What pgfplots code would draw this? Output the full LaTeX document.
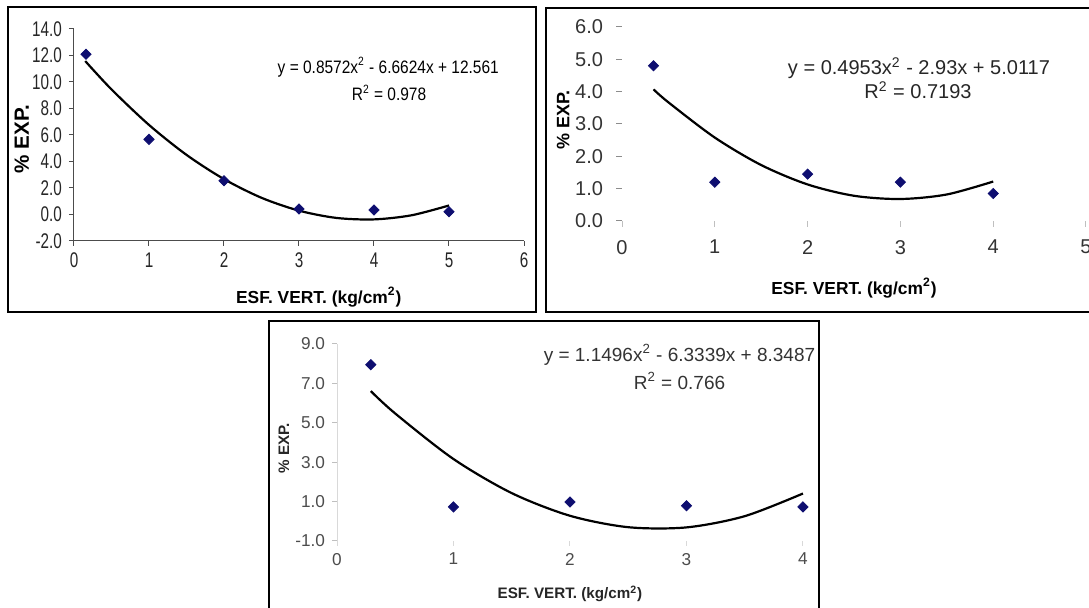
\documentclass[border=0pt]{standalone}
\usepackage{fontspec}
\setmainfont{Liberation Sans}
\newfontfamily\narrowsans{Liberation Sans}[FakeStretch=0.72]
\newfontfamily\eqsans{Liberation Sans}[FakeStretch=0.86]
\usepackage{pgfplots}
\pgfplotsset{compat=1.18}
\definecolor{ptnavy}{RGB}{14,14,112}

\pgfplotsset{
  excel/.style={
    scale only axis, clip=false, anchor=south west,
    axis x line*=bottom, axis y line*=left,
    tick align=outside, major tick length=2.5pt,
    axis line style={black!70, line width=0.5pt},
    tick style={black!70, line width=0.5pt},
    xlabel style={anchor=center, font=\bfseries\fontsize{8.7}{9}\selectfont},
    ylabel style={anchor=center, font=\bfseries\fontsize{9}{9}\selectfont},
  },
  pts/.style={only marks, mark=square*, mark size=1.8pt,
    mark options={rotate=45, fill=ptnavy, draw=ptnavy}},
  trend/.style={black, line width=1.1pt, smooth, no marks},
}

\begin{document}
\begin{tikzpicture}
\useasboundingbox (0,0) rectangle (544.5pt,304pt);

% panel frames
\draw[line width=1pt] (4pt,300.25pt) rectangle (268pt,148pt);
\draw[line width=1pt] (273pt,300pt) rectangle (550pt,148pt);
\draw[line width=1pt] (134.5pt,143.5pt) rectangle (409.5pt,-6pt);

% panel 1
\begin{axis}[excel,
  at={(37pt,183.5pt)}, width=225pt, height=106pt,
  xmin=0, xmax=6, ymin=-2, ymax=14,
  xtick={0,1,2,3,4,5,6}, xticklabels={0,1,2,3,4,5,6},
  ytick={-2,0,2,4,6,8,10,12,14},
  yticklabels={-2.0,0.0,2.0,4.0,6.0,8.0,10.0,12.0,14.0},
  tick label style={font=\narrowsans\fontsize{10.6}{11}\selectfont, black!85},
  xlabel={ESF. VERT. (kg/cm\textsuperscript{2})},
  xlabel style={at={(axis description cs:0.544,-0.264)}},
  ylabel={\% EXP.},
  ylabel style={at={(axis description cs:-0.116,0.48)},
    font=\bfseries\fontsize{10.3}{10}\selectfont},
]
\addplot[pts] coordinates {
  (0.16,12.1) (1,5.67) (2,2.55) (3,0.42) (4,0.34) (5,0.21)
};
\addplot[trend] coordinates {
  (0.15,11.58) (0.5,9.44) (1,6.76) (1.5,4.50) (2,2.67) (2.5,1.26)
  (3,0.29) (3.5,-0.26) (4,-0.37) (4.5,-0.06) (5,0.68)
};
\node[font=\eqsans\fontsize{9}{9}\selectfont] at (axis cs:4.19,11.13)
  {y = 0.8572x\textsuperscript{2} - 6.6624x + 12.561};
\node[font=\eqsans\fontsize{9}{9}\selectfont] at (axis cs:4.2,9.17)
  {R\textsuperscript{2} = 0.978};
\end{axis}

% panel 2
\begin{axis}[excel,
  at={(311pt,193.5pt)}, width=232pt, height=97pt,
  xmin=0, xmax=5, ymin=0, ymax=6,
  axis line style={draw=none},
  ytick style={black!45},
  xtick style={black!25},
  major tick length=3pt,
  xtick={0,1,2,3,4,5}, xticklabels={0,1,2,3,4,5},
  ytick={0,1,2,3,4,5,6},
  yticklabels={0.0,1.0,2.0,3.0,4.0,5.0,6.0},
  tick label style={font=\fontsize{10}{10}\selectfont, black!80},
  xticklabel style={yshift=-3pt},
  yticklabel style={xshift=-3pt},
  xlabel={ESF. VERT. (kg/cm\textsuperscript{2})},
  xlabel style={at={(axis description cs:0.5,-0.345)}},
  ylabel={\% EXP.},
  ylabel style={at={(axis description cs:-0.127,0.52)}},
]
\addplot[pts] coordinates {
  (0.34,4.8) (1,1.2) (2,1.45) (3,1.2) (4,0.85)
};
\addplot[trend] coordinates {
  (0.34,4.07) (0.5,3.67) (1,2.58) (1.5,1.73) (2,1.13) (2.5,0.78)
  (3,0.68) (3.5,0.82) (4,1.22)
};
\node[font=\fontsize{10}{10}\selectfont, black!85] at (axis cs:3.2,4.73)
  {y = 0.4953x\textsuperscript{2} - 2.93x + 5.0117};
\node[font=\fontsize{10}{10}\selectfont, black!85] at (axis cs:3.19,4.05)
  {R\textsuperscript{2} = 0.7193};
\end{axis}

% panel 3
\begin{axis}[excel,
  at={(168.5pt,33.5pt)}, width=233pt, height=98.5pt,
  xmin=0, xmax=4, ymin=-1, ymax=9,
  x axis line style={draw=none},
  y axis line style={black!15},
  ytick style={black!25},
  xtick style={black!15},
  xtick={0,1,2,3,4}, xticklabels={0,1,2,3,4},
  ytick={-1,1,3,5,7,9},
  yticklabels={-1.0,1.0,3.0,5.0,7.0,9.0},
  tick label style={font=\fontsize{8.6}{9}\selectfont, black!70},
  xlabel={ESF. VERT. (kg/cm\textsuperscript{2})},
  xlabel style={at={(axis description cs:0.5,-0.269)},
    font=\bfseries\fontsize{7.6}{8}\selectfont, black!85},
  ylabel={\% EXP.},
  ylabel style={at={(axis description cs:-0.114,0.47)},
    font=\bfseries\fontsize{7.6}{8}\selectfont, black!85},
]
\addplot[pts] coordinates {
  (0.29,7.95) (1,0.73) (2,0.98) (3,0.79) (4,0.73)
};
\addplot[trend] coordinates {
  (0.29,6.61) (0.5,5.47) (1,3.16) (1.5,1.43) (2,0.28) (2.5,-0.30)
  (3,-0.31) (3.5,0.26) (4,1.41)
};
\node[font=\fontsize{9.5}{10}\selectfont, black!80] at (axis cs:2.94,8.44)
  {y = 1.1496x\textsuperscript{2} - 6.3339x + 8.3487};
\node[font=\fontsize{9.5}{10}\selectfont, black!80] at (axis cs:2.94,7.12)
  {R\textsuperscript{2} = 0.766};
\end{axis}
\end{tikzpicture}
\end{document}
